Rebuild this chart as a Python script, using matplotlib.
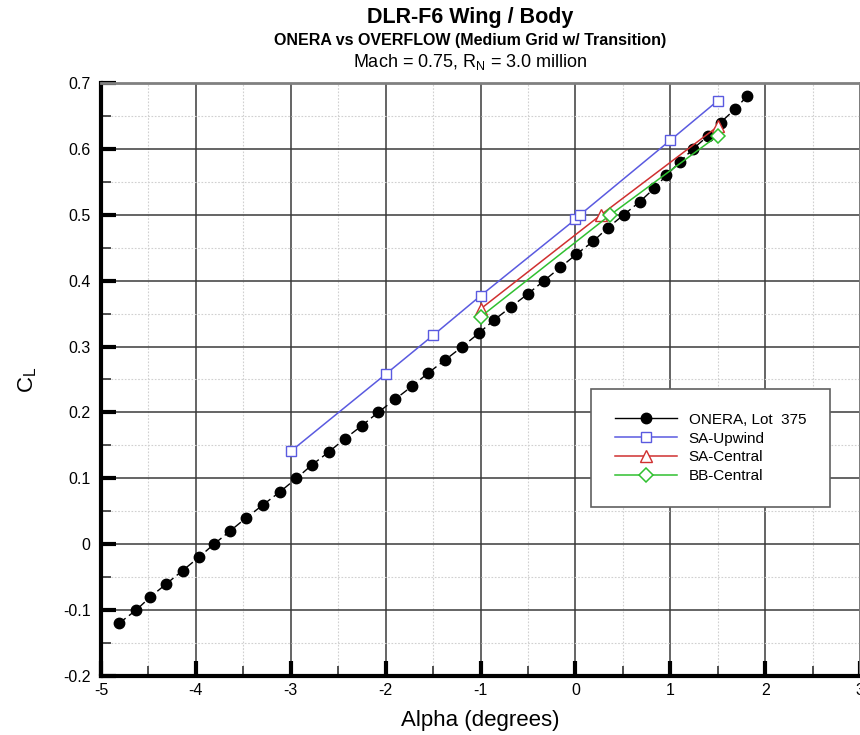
import numpy as np
import matplotlib
matplotlib.use("Agg")
import matplotlib.pyplot as plt
from matplotlib.lines import Line2D
from matplotlib.ticker import MultipleLocator, FuncFormatter

plt.rcParams["font.family"] = ["Liberation Sans", "DejaVu Sans"]
plt.rcParams["mathtext.default"] = "regular"

# ---- Data ------------------------------------------------------------------
onera_alpha = [-4.81, -4.63, -4.48, -4.31, -4.14, -3.97, -3.81, -3.64, -3.47, -3.29,
               -3.11, -2.94, -2.78, -2.60, -2.43, -2.25, -2.08, -1.90, -1.72, -1.55,
               -1.37, -1.19, -1.02, -0.86, -0.68, -0.50, -0.33, -0.16, 0.01, 0.19,
               0.34, 0.51, 0.68, 0.83, 0.96, 1.10, 1.24, 1.40, 1.53, 1.68, 1.81]
onera_cl = [-0.12, -0.10, -0.08, -0.06, -0.04, -0.02, 0.00, 0.02, 0.04, 0.06,
            0.08, 0.10, 0.12, 0.14, 0.16, 0.18, 0.20, 0.22, 0.24, 0.26,
            0.28, 0.30, 0.32, 0.34, 0.36, 0.38, 0.40, 0.42, 0.44, 0.46,
            0.48, 0.50, 0.52, 0.54, 0.56, 0.58, 0.60, 0.62, 0.64, 0.66, 0.68]

sa_up_alpha = [-3.0, -2.0, -1.5, -1.0, 0.0, 0.05, 1.0, 1.5]
sa_up_cl = [0.141, 0.258, 0.317, 0.377, 0.493, 0.500, 0.613, 0.673]

sa_cen_alpha = [-1.0, 0.27, 1.5]
sa_cen_cl = [0.357, 0.500, 0.634]

bb_cen_alpha = [-1.0, 0.36, 1.5]
bb_cen_cl = [0.345, 0.499, 0.620]

# ---- Figure ----------------------------------------------------------------
fig = plt.figure(figsize=(8.6, 7.35), dpi=100)
ax = fig.add_axes([101 / 860, 1 - 676 / 735, 759 / 860, 593 / 735])

ax.set_xlim(-5, 3)
ax.set_ylim(-0.2, 0.7)

# grid
ax.xaxis.set_major_locator(MultipleLocator(1))
ax.xaxis.set_minor_locator(MultipleLocator(0.5))
ax.yaxis.set_major_locator(MultipleLocator(0.1))
ax.yaxis.set_minor_locator(MultipleLocator(0.05))
ax.grid(which="major", color="#3a3a3a", linewidth=1.1, zorder=0)
ax.grid(which="minor", color="#d0d0d0", linewidth=0.8, linestyle=(0, (1.5, 1.5)), zorder=0)
ax.set_axisbelow(True)

fmt = FuncFormatter(lambda v, _: f"{round(v, 2):g}" if abs(v) > 1e-9 else "0")
ax.xaxis.set_major_formatter(fmt)
ax.yaxis.set_major_formatter(fmt)

ax.tick_params(which="major", direction="in", length=11, width=3, color="black",
               labelsize=11.5, pad=5, top=False, right=False)
ax.tick_params(axis="y", which="major", pad=7.5)
ax.tick_params(which="minor", direction="in", length=7, width=1.2, color="#333333",
               top=False, right=False)

for side in ("left", "bottom"):
    ax.spines[side].set_linewidth(3)
    ax.spines[side].set_color("black")
for side in ("top", "right"):
    ax.spines[side].set_linewidth(2)
    ax.spines[side].set_color("#808080")

# ---- Series ----------------------------------------------------------------
ax.plot(onera_alpha, onera_cl, color="black", linewidth=1.0, linestyle=(0, (6, 3)),
        marker="o", markersize=7.5, markerfacecolor="black", markeredgecolor="black",
        zorder=3)
ax.plot(sa_up_alpha, sa_up_cl, color="#5a5ae0", linewidth=1.1, marker="s",
        markersize=7.5, markerfacecolor="white", markeredgecolor="#5a5ae0",
        markeredgewidth=1.0, label="SA-Upwind", zorder=4)
ax.plot(sa_cen_alpha, sa_cen_cl, color="#d03030", linewidth=1.1, marker="^",
        markersize=8, markerfacecolor="white", markeredgecolor="#d03030",
        markeredgewidth=1.0, label="SA-Central", zorder=4)
ax.plot(bb_cen_alpha, bb_cen_cl, color="#30c030", linewidth=1.1, marker="D",
        markersize=7, markerfacecolor="white", markeredgecolor="#30c030",
        markeredgewidth=1.1, label="BB-Central", zorder=4)

# legend: ONERA shown with a solid line like the original
onera_handle = Line2D([0], [0], color="black", linewidth=1.0, marker="o", markersize=7.5,
                      markerfacecolor="black", markeredgecolor="black")
handles, labels = ax.get_legend_handles_labels()
leg = ax.legend([onera_handle] + handles, ["ONERA, Lot  375"] + labels,
                loc="upper left", bbox_to_anchor=(0.6456, 0.484), fontsize=11,
                handlelength=4.1, handletextpad=0.75, borderpad=1.55, labelspacing=0.32,
                borderaxespad=0, fancybox=False, framealpha=1, edgecolor="#606060")
leg.get_frame().set_linewidth(1.2)

# ---- Labels ----------------------------------------------------------------
ax.set_xlabel("Alpha (degrees)", fontsize=16, labelpad=9)
ax.set_ylabel("C$_L$", fontsize=16, labelpad=17)

cx = 470 / 860
fig.text(cx, 1 - 17 / 735, "DLR-F6 Wing / Body", ha="center", va="center",
         fontsize=15.5, fontweight="bold")
fig.text(cx, 1 - 41 / 735, "ONERA vs OVERFLOW (Medium Grid w/ Transition)",
         ha="center", va="center", fontsize=11.5, fontweight="bold")
fig.text(cx, 1 - 62 / 735, "Mach = 0.75, R$_N$ = 3.0 million", ha="center",
         va="center", fontsize=13)

fig.savefig("out.png", dpi=100, facecolor="white")
plt.close()
